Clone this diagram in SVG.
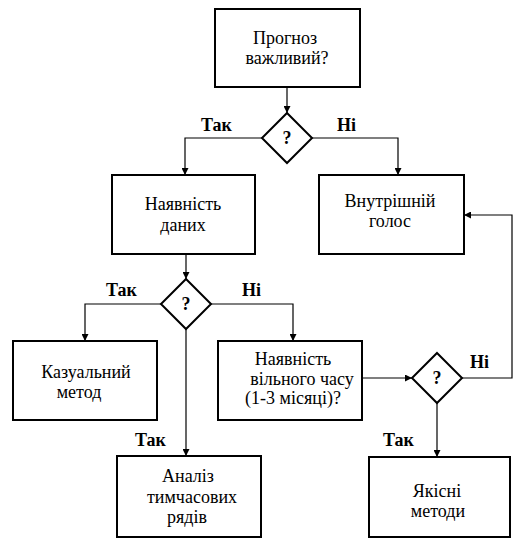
<svg xmlns="http://www.w3.org/2000/svg" width="528" height="546" viewBox="0 0 528 546">
<defs>
<marker id="ah" viewBox="0 0 10 10" refX="10" refY="5" markerWidth="7" markerHeight="7" markerUnits="userSpaceOnUse" orient="auto">
<path d="M0,0 L10,5 L0,10 z" fill="#000"/>
</marker>
</defs>
<rect width="528" height="546" fill="#fff"/>
<g id="connectors" fill="none" stroke="#000" stroke-width="1.2">
<path d="M287,87 V113" marker-end="url(#ah)"/>
<path d="M262,138 H185 V175" marker-end="url(#ah)"/>
<path d="M312,138 H398 V175" marker-end="url(#ah)"/>
<path d="M186,254 V279" marker-end="url(#ah)"/>
<path d="M161,304 H85 V341" marker-end="url(#ah)"/>
<path d="M211,304 H293 V341" marker-end="url(#ah)"/>
<path d="M186,329 V456" marker-end="url(#ah)"/>
<path d="M362,378 H412" marker-end="url(#ah)"/>
<path d="M462,378 H512 V215 H464" marker-end="url(#ah)"/>
<path d="M437,403 V457" marker-end="url(#ah)"/>
</g>
<g id="labels" font-family="Liberation Serif" font-size="18" font-weight="bold" fill="#000">
<text x="201" y="131">Так</text>
<text x="337" y="131">Ні</text>
<text x="106" y="296">Так</text>
<text x="242" y="296">Ні</text>
<text x="135" y="446">Так</text>
<text x="383" y="446">Так</text>
<text x="470" y="368">Ні</text>
</g>
<g id="nodes" font-family="Liberation Serif" font-size="18" text-anchor="middle" fill="#000">
<g id="n1">
<rect x="215" y="9" width="145" height="78" fill="#fff" stroke="#000" stroke-width="2"/>
<text x="285" y="44">Прогноз</text>
<text x="287" y="64">важливий?</text>
</g>
<g id="d1">
<path d="M287,113 L312,138 L287,163 L262,138 z" fill="#fff" stroke="#000" stroke-width="2"/>
<text x="287" y="144" font-weight="bold">?</text>
</g>
<g id="n2">
<rect x="112" y="175" width="143" height="79" fill="#fff" stroke="#000" stroke-width="2"/>
<text x="183" y="210">Наявність</text>
<text x="183" y="231">даних</text>
</g>
<g id="n3">
<rect x="319" y="175" width="145" height="79" fill="#fff" stroke="#000" stroke-width="2"/>
<text x="390" y="207">Внутрішній</text>
<text x="390" y="227">голос</text>
</g>
<g id="d2">
<path d="M186,279 L211,304 L186,329 L161,304 z" fill="#fff" stroke="#000" stroke-width="2"/>
<text x="186" y="310" font-weight="bold">?</text>
</g>
<g id="n4">
<rect x="13" y="341" width="144" height="79" fill="#fff" stroke="#000" stroke-width="2"/>
<text x="86" y="378">Казуальний</text>
<text x="79" y="398">метод</text>
</g>
<g id="n5">
<rect x="218" y="341" width="144" height="79" fill="#fff" stroke="#000" stroke-width="2"/>
<text x="293" y="365">Наявність</text>
<text x="302" y="385">вільного часу</text>
<text x="293" y="404">(1-3 місяці)?</text>
</g>
<g id="d3">
<path d="M437,353 L462,378 L437,403 L412,378 z" fill="#fff" stroke="#000" stroke-width="2"/>
<text x="437" y="384" font-weight="bold">?</text>
</g>
<g id="n6">
<rect x="117" y="456" width="144" height="81" fill="#fff" stroke="#000" stroke-width="2"/>
<text x="188" y="482">Аналіз</text>
<text x="192" y="503">тимчасових</text>
<text x="187" y="523">рядів</text>
</g>
<g id="n7">
<rect x="369" y="457" width="141" height="80" fill="#fff" stroke="#000" stroke-width="2"/>
<text x="437" y="497">Якісні</text>
<text x="438" y="517">методи</text>
</g>
</g>
</svg>
